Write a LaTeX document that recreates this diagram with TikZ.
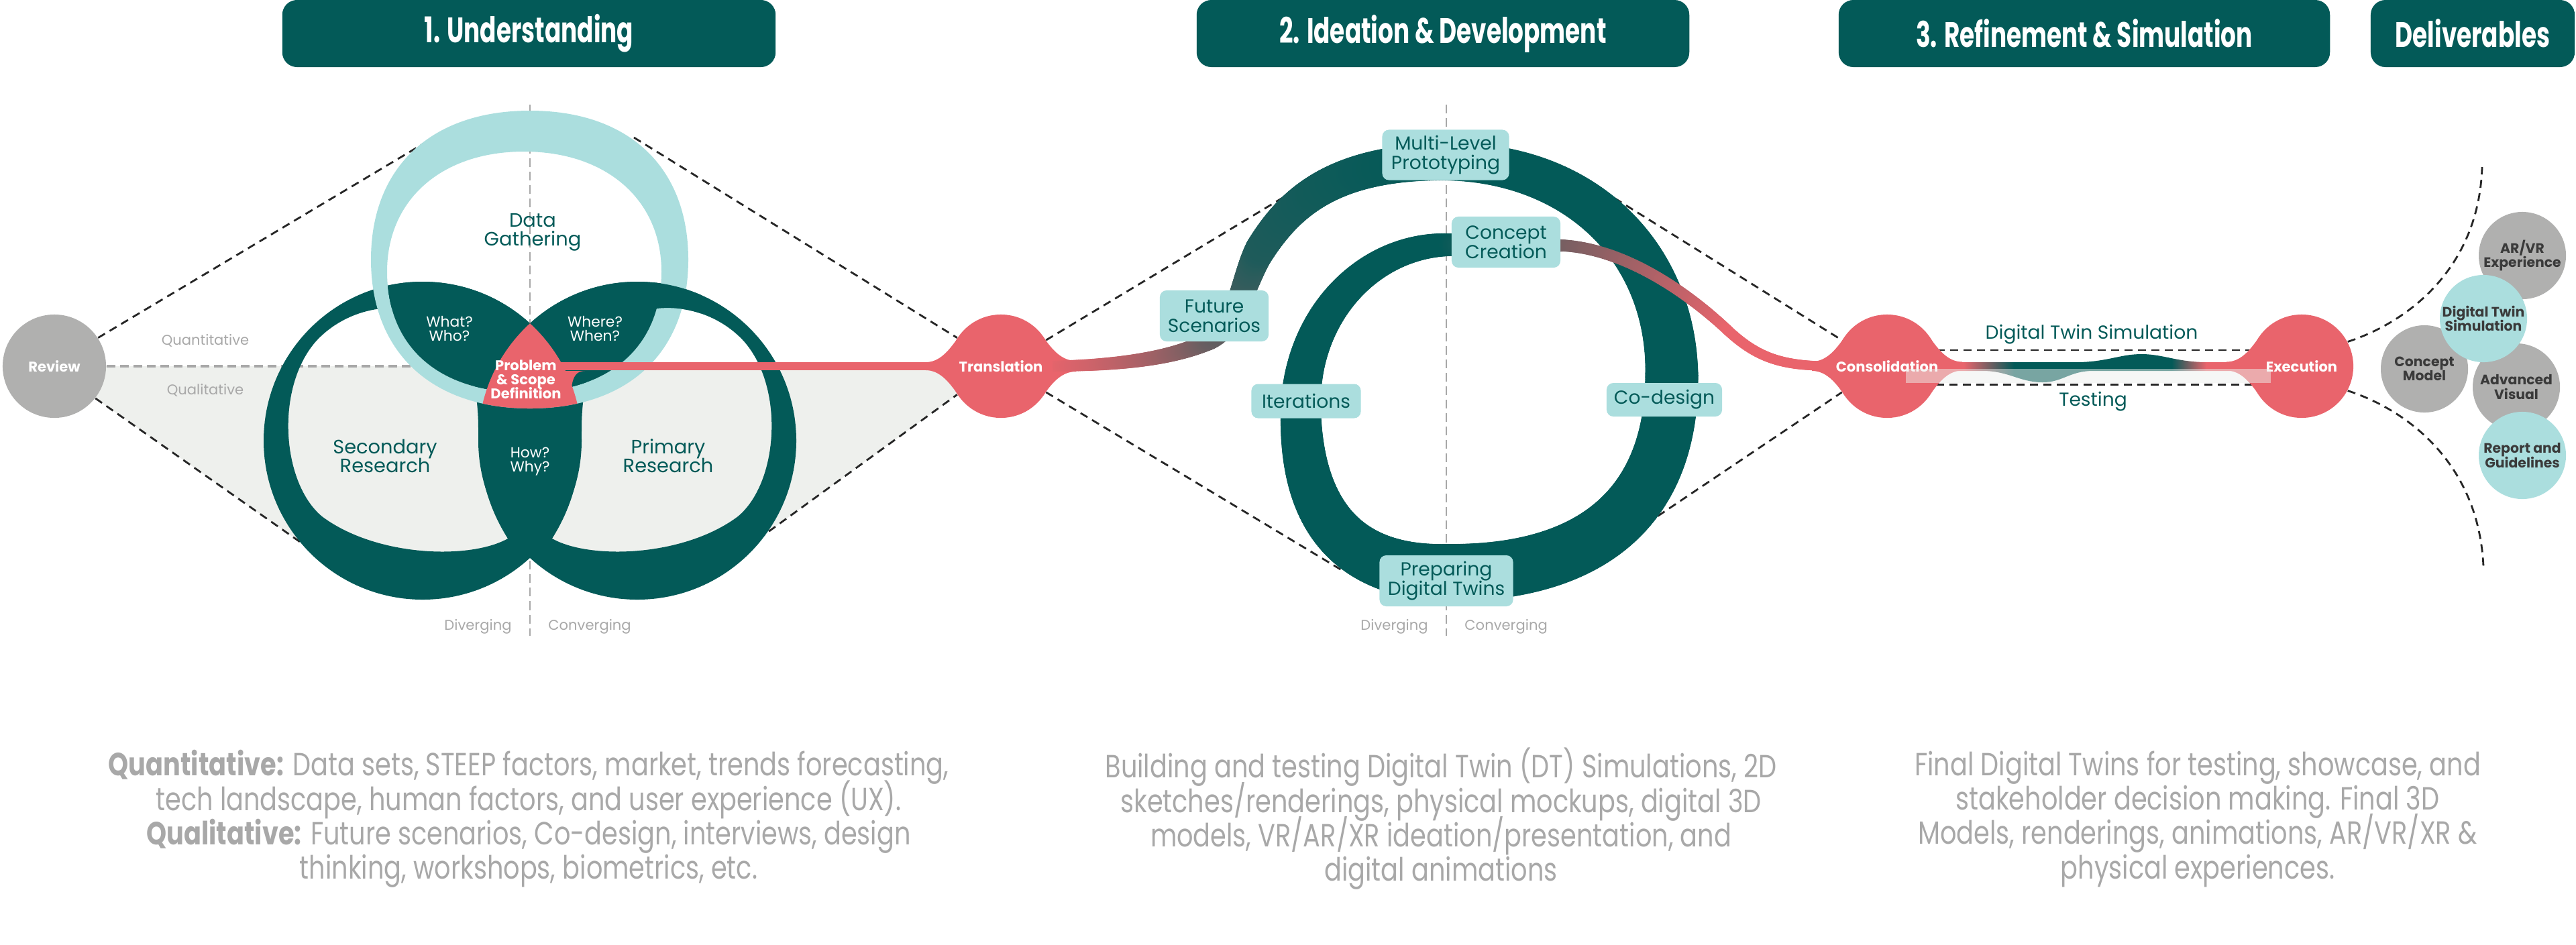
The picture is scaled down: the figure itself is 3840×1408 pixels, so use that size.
\documentclass[tikz,border=0pt]{standalone}
\usepackage{fontspec}
\setmainfont{Poppins}
\newfontfamily\headfont[FakeStretch=0.68]{Poppins}
\newfontfamily\notefont[FakeStretch=0.8]{Poppins}
\definecolor{dteal}{HTML}{035A58}
\definecolor{lteal}{HTML}{ABDEDE}
\definecolor{rose}{HTML}{E9646C}
\definecolor{cgray}{HTML}{B0B0AF}
\definecolor{lgray}{HTML}{EEF0ED}
\definecolor{tgray}{HTML}{A8A8A8}
\definecolor{dtxt}{HTML}{3A3A3A}
\lineskiplimit=-10pt
\pgfdeclarelayer{back}\pgfdeclarelayer{mid}\pgfsetlayers{back,mid,main}
\pgfdeclarehorizontalshading{wave}{100bp}{color(0bp)=(rose); color(30bp)=(rose); color(38bp)=(dteal); color(63bp)=(dteal); color(68.5bp)=(rose); color(100bp)=(rose)}
\tikzset{
  hbox/.style={fill=dteal, rounded corners=0.22cm, text=white, minimum height=1cm, inner sep=0pt, font=\headfont\bfseries\fontsize{15}{16}\selectfont},
  blob/.style={circle, fill=rose, minimum size=1.54cm, inner sep=0pt, text=white, font=\bfseries\fontsize{6}{7}\selectfont},
  lbox/.style={fill=lteal, rounded corners=0.1cm, text=dteal, align=center, inner sep=0pt, font=\fontsize{8}{8.3}\selectfont},
  deliv/.style={circle, minimum size=1.3cm, inner sep=0pt, align=center, text=dtxt, font=\bfseries\fontsize{5.8}{6}\selectfont},
  venn/.style={align=center, text=dteal, font=\fontsize{8.2}{7.9}\selectfont},
  lens/.style={align=center, text=white, font=\fontsize{6.2}{5.9}\selectfont},
  hint/.style={text=tgray, font=\fontsize{6}{7}\selectfont},
  note/.style={align=center, text=tgray, font=\notefont\fontsize{13.6}{14.6}\selectfont},
  blk/.style={draw=black!85, line width=0.028cm, dash pattern=on 0.12cm off 0.08cm},
  gry/.style={draw=tgray, line width=0.025cm, dash pattern=on 0.13cm off 0.07cm}
}
\newcommand\blobneck[4]{\fill[rose] ({#1+(#3)*63},{#2-44}) .. controls ({#1+(#3)*78},{#2-22}) and ({#1+(#3)*92},{#2-(#4)}) .. ({#1+(#3)*112},{#2-(#4)}) -- ({#1+(#3)*112},{#2+(#4)}) .. controls ({#1+(#3)*92},{#2+(#4)}) and ({#1+(#3)*78},{#2+22}) .. ({#1+(#3)*63},{#2+44}) -- cycle;}
\newcommand\spiralpart[8]{%
  \foreach \i in {0,...,100}{%
    \pgfmathsetmacro\spt{\i/100}%
    \pgfmathsetmacro\spw{(#5+(#6-#5)*\spt)/2}%
    \pgfmathsetmacro\spc{#7+(#8-#7)*\spt}%
    \path (#1) .. controls (#2) and (#3) .. (#4) coordinate[pos=\spt] (sp);%
    \fill[dteal!\spc!rose] (sp) circle (\spw);}}
\def\dgouter{(553,387) .. controls (553,249) and (643,165) .. (790,165) .. controls (937,165) and (1026,249) .. (1026,387) .. controls (1026,525) and (937,609) .. (790,609) .. controls (643,609) and (553,525) .. (553,387) -- cycle}
\def\dginner{(577,405) .. controls (577,298) and (658,226) .. (781,226) .. controls (904,226) and (986,298) .. (986,405) .. controls (986,517) and (908,585) .. (781,585) .. controls (654,585) and (577,517) .. (577,405) -- cycle}
\def\lhole{(757,803) .. controls (700,835) and (560,830) .. (480,770) .. controls (420,720) and (410,580) .. (470,510) .. controls (510,465) and (580,445) .. (640,470) .. controls (690,495) and (713,560) .. (713,640) .. controls (713,710) and (730,760) .. (757,803) -- cycle}
\def\rhole{(823,803) .. controls (880,835) and (1020,830) .. (1100,770) .. controls (1160,720) and (1170,580) .. (1110,510) .. controls (1070,465) and (1000,445) .. (940,470) .. controls (890,495) and (867,560) .. (867,640) .. controls (867,710) and (850,760) .. (823,803) -- cycle}
\begin{document}
\begin{tikzpicture}[x=0.01cm, y=-0.01cm]
\useasboundingbox (0,0) rectangle (3840,1408);

\node[hbox, minimum width=7.35cm] (h1) at (788.5,50) {1. Understanding}; \node[hbox, minimum width=7.34cm] (h2) at (2151,50) {2. Ideation \& Development};
\node[hbox, minimum width=7.32cm] (h3) at (3107,50) {3. Refinement \& Simulation}; \node[hbox, minimum width=3.04cm] (h4) at (3686,50) {Deliverables};

\node[blob, fill=cgray] (rev) at (81,546) {Review}; \node[blob] (trans) at (1492,546) {Translation};
\node[blob] (cons) at (2813,546) {Consolidation}; \node[blob] (exec) at (3431,546) {Execution};

\node[venn] (dg) at (794,346) {Data\\Gathering}; \node[venn] (sec) at (574,680) {Secondary\\Research}; \node[venn] (prim) at (996,680) {Primary\\Research};
\node[lens] (what) at (670,490) {What?\\Who?}; \node[lens] (where) at (887,490) {Where?\\When?}; \node[lens] (how) at (790,688) {How?\\Why?};
\node[lens, font=\bfseries\fontsize{6}{5.9}\selectfont] (prob) at (784,566) {Problem\\\& Scope\\Definition};
\node[hint] (quan) at (306,508) {Quantitative}; \node[hint] (qual) at (306,582) {Qualitative};
\node[hint, anchor=east] (div1) at (775,934) {Diverging}; \node[hint, anchor=west] (con1) at (805,934) {Converging};
\node[hint, anchor=east] (div2) at (2141,934) {Diverging}; \node[hint, anchor=west] (con2) at (2171,934) {Converging};

\node[lbox, minimum width=1.62cm, minimum height=0.76cm] (fut) at (1810,471) {Future\\Scenarios};
\node[lbox, minimum width=1.89cm, minimum height=0.75cm] (mlp) at (2155,231) {Multi-Level\\Prototyping};
\node[lbox, minimum width=1.62cm, minimum height=0.76cm] (cc) at (2245,361) {Concept\\Creation};
\node[lbox, minimum width=1.63cm, minimum height=0.51cm] (iter) at (1947,598) {Iterations};
\node[lbox, minimum width=1.72cm, minimum height=0.50cm] (cod) at (2481,596) {Co-design};
\node[lbox, minimum width=1.99cm, minimum height=0.76cm] (pdt) at (2156,866) {Preparing\\Digital Twins};

\node[venn, font=\fontsize{8}{8}\selectfont] (dts) at (3118,499) {Digital Twin Simulation}; \node[venn, font=\fontsize{8}{8}\selectfont] (test) at (3120,599) {Testing};
\fill[lgray, opacity=0.5] (2841,550) rectangle (3385,571);

\node[deliv, fill=cgray] (arvr) at (3760,381) {AR/VR\\Experience}; \node[deliv, fill=cgray] (cmod) at (3614,550) {Concept\\Model};
\node[deliv, fill=cgray] (advis) at (3751,577) {Advanced\\Visual}; \node[deliv, fill=lteal] (dtsim) at (3702,475) {Digital Twin\\Simulation};
\node[deliv, fill=lteal] (report) at (3760,679) {Report and\\Guidelines};

\node[note] (n1) at (788,1221) {{\bfseries Quantitative:} Data sets, STEEP factors, market, trends forecasting,\\tech landscape, human factors, and user experience (UX).\\{\bfseries Qualitative:} Future scenarios, Co-design, interviews, design\\thinking, workshops, biometrics, etc.};
\node[note] (n2) at (2148,1221) {Building and testing Digital Twin (DT) Simulations, 2D\\sketches/renderings, physical mockups, digital 3D\\models, VR/AR/XR ideation/presentation, and\\digital animations};
\node[note] (n3) at (3276,1221) {Final Digital Twins for testing, showcase, and\\stakeholder decision making. Final 3D\\Models, renderings, animations, AR/VR/XR \&\\physical experiences.};

\begin{pgfonlayer}{back}
\coordinate (ul1) at (645,206); \coordinate (ur1) at (945,205); \coordinate (dl1) at (470,824); \coordinate (dr1) at (1130,804);
\coordinate (ul2) at (1960,266); \coordinate (dl2) at (2000,850); \coordinate (ur2) at (2390,285); \coordinate (dr2) at (2405,814);
\coordinate (vt1) at (790,156); \coordinate (vb1) at (790,948); \coordinate (vt2) at (2156,156); \coordinate (vb2) at (2156,948);
\coordinate (qend) at (625,546); \coordinate (dvt) at (3700,249); \coordinate (dvb) at (3702,845);
\fill[lgray] (rev.center) -- (trans.center) -- (trans.213) -- (dr1) -- (940,850) -- (790,825) -- (640,850) -- (dl1) -- (rev.322) -- cycle;
\draw[gry] (vt1) to (vb1); \draw[gry] (vt2) to (vb2); \draw[gry, line width=0.04cm] (rev.east) to (qend);
\draw[blk] (rev.33) to (ul1); \draw[blk] (ur1) to (trans.147); \draw[blk] (rev.322) to (dl1); \draw[blk] (dr1) to (trans.213);
\draw[blk] (trans.30) to (ul2); \draw[blk] (trans.330) to (dl2); \draw[blk] (ur2) to (cons.150); \draw[blk] (dr2) to (cons.210);
\draw[blk] (cons.18) to (exec.162); \draw[blk] (cons.339) to (exec.201);
\draw[blk] (exec.28) .. controls (3590,480) and (3695,400) .. (dvt); \draw[blk] (exec.332) .. controls (3590,612) and (3695,692) .. (dvb);
\end{pgfonlayer}

\begin{pgfonlayer}{mid}
\fill[dteal, even odd rule] (630,657) circle (237) \lhole; \fill[dteal, even odd rule] (950,657) circle (237) \rhole;
\fill[lteal, even odd rule] \dgouter \dginner;
\begin{scope} \clip \dginner; \fill[dteal] (630,657) circle (237) (950,657) circle (237); \end{scope}
\begin{scope} \clip (975,405) rectangle (1045,475); \fill[dteal, even odd rule] (950,657) circle (237) \rhole; \end{scope}
\begin{scope} \clip (630,657) circle (237); \clip (950,657) circle (237); \fill[rose] \dgouter; \end{scope}
\coordinate (pj) at (835,546);
\draw[rose, line width=0.12cm] (pj) to (trans.west);
\fill[rose] (840,553) -- (872,553) .. controls (860,553) and (854,560) .. (852,578) -- (840,578) -- cycle;
\blobneck{1492}{546}{-1}{6} \blobneck{1492}{546}{1}{8} \blobneck{2813}{546}{-1}{7} \blobneck{2813}{546}{1}{6.5} \blobneck{3431}{546}{-1}{6.5}
\spiralpart{1560,546}{1680,545}{1750,532}{1800,510}{16}{26}{0}{55}
\spiralpart{1800,510}{1845,490}{1855,410}{1880,370}{26}{46}{55}{88}
\spiralpart{1880,370}{1925,300}{1990,242}{2155,241}{46}{56}{88}{100}
\spiralpart{2155,241}{2355,241}{2492,375}{2492,560}{56}{79}{100}{100}
\spiralpart{2492,560}{2492,745}{2385,854}{2160,854}{79}{86}{100}{100}
\spiralpart{2160,854}{2010,854}{1939,770}{1939,610}{86}{60}{100}{100}
\spiralpart{1939,610}{1939,470}{2040,365}{2160,365}{60}{34}{100}{100}
\spiralpart{2160,365}{2220,365}{2280,366}{2330,366}{34}{18}{100}{50}
\spiralpart{2330,366}{2430,372}{2525,445}{2575,492}{18}{16}{50}{0}
\spiralpart{2575,492}{2625,539}{2665,546}{2740,546}{16}{14}{0}{0}
\shade[shading=wave] (2880,540) -- (3095,540) .. controls (3140,540) and (3160,528) .. (3192,528) .. controls (3225,528) and (3245,540) .. (3290,540) -- (3350,540) -- (3350,553) -- (3120,553) .. controls (3085,553) and (3075,570) .. (3045,570) .. controls (3010,570) and (2995,553) .. (2955,553) -- (2880,553) -- cycle;
\end{pgfonlayer}
\end{tikzpicture}
\end{document}
